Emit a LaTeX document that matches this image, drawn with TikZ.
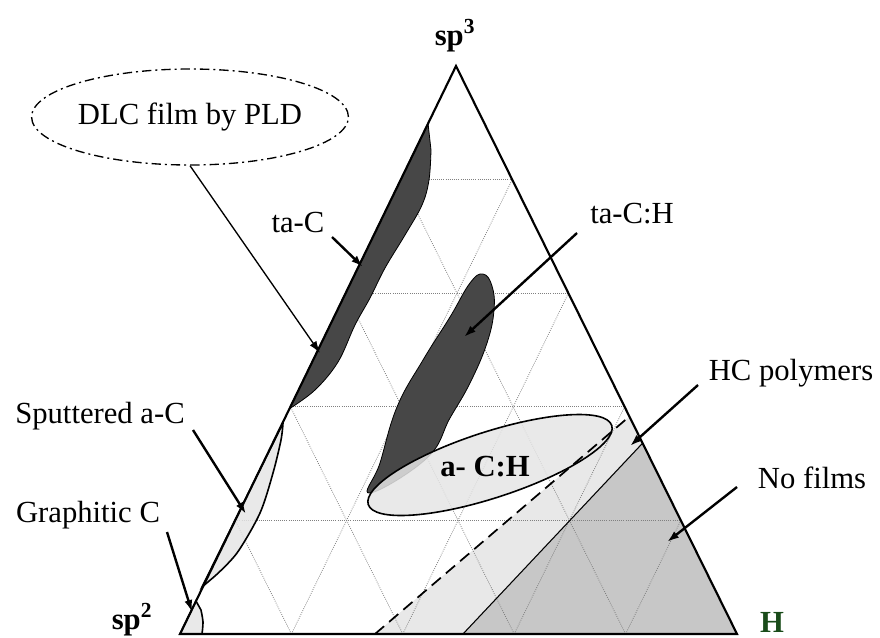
\documentclass[tikz,border=0pt]{standalone}
\usepackage{fontspec}
\setmainfont{Liberation Serif}
\usetikzlibrary{arrows.meta,calc,shapes.geometric}
\definecolor{hgreen}{RGB}{25,75,25}

\begin{document}
\begin{tikzpicture}[x=0.75pt, y=-0.75pt, >={Latex[length=9pt,width=6pt]},
    lbl/.style={font=\fontsize{23}{27}\selectfont, inner sep=0pt},
    corner/.style={font=\fontsize{23}{27}\selectfont\bfseries, inner sep=0pt},
    arr/.style={->, line width=1.8pt},
    gridline/.style={gray, densely dotted, line width=0.6pt},
    darkzone/.style={fill=black!72, draw=black, line width=0.6pt},
    lightzone/.style={fill=black!10, fill opacity=0.85, draw=black, line width=1.2pt}]
    \useasboundingbox (0,0) rectangle (880,637);

    % corners of the diagram
    \coordinate (A) at (180,634);
    \coordinate (B) at (737,634);
    \coordinate (C) at (456,66);

    % HC polymers and no films zones
    \fill[black!9] ($(A)!0.35!(B)$) -- ($(A)!0.508!(B)$) -- ($(B)!0.336!(C)$) -- ($(B)!0.383!(C)$) -- cycle;
    \fill[black!22] ($(A)!0.508!(B)$) -- (B) -- ($(B)!0.336!(C)$) -- cycle;

    % grid
    \foreach \k in {1,...,4} {
        \pgfmathsetmacro\fr{\k/5}
        \pgfmathsetmacro\gr{1-\k/5}
        \draw[gridline] ($(A)!\fr!(C)$) -- ($(B)!\fr!(C)$);
        \draw[gridline] ($(A)!\fr!(B)$) -- ($(B)!\gr!(C)$);
        \draw[gridline] ($(A)!\fr!(B)$) -- ($(A)!\fr!(C)$);
    }

    % ta-C and ta-C:H
    \draw[darkzone] (289,409) -- (428,123) -- plot[smooth, tension=0.6] coordinates {(431,150) (429,180) (422,205) (405,235) (385,268) (370,298) (355,325) (338,362) (315,390) (289,409)} -- cycle;
    \draw[darkzone] plot[smooth cycle, tension=0.7] coordinates {(483,274) (492,286) (494,310) (487,343) (470,383) (450,418) (427,458) (370,493) (380,463) (397,407) (423,360) (450,317) (470,283)};

    % a-C:H, sputtered and graphitic
    \draw[lightzone, rotate around={18:(490,465)}] (490,465) ellipse [x radius=128, y radius=33];
    \draw[lightzone] (283,423) -- (202,587) -- plot[smooth] coordinates {(215,576) (237,553) (260,513) (273,473) (281,440) (283,423)} -- cycle;
    \draw[lightzone] (180,634) -- (196,601) -- plot[smooth] coordinates {(201,610) (203,622) (202,634)} -- cycle;

    \draw[line width=1.3pt, dash pattern=on 9pt off 5pt] ($(A)!0.35!(B)$) -- ($(B)!0.383!(C)$);
    \draw[line width=0.8pt] ($(A)!0.508!(B)$) -- ($(B)!0.336!(C)$);

    \draw[line width=1.6pt] (A) -- (B) -- (C) -- cycle;

    % labels
    \node[corner] (sp3) at (455,36) {sp\textsuperscript{3}};
    \node[corner] (sp2) at (132,620) {sp\textsuperscript{2}};
    \node[corner, text=hgreen] (hcorner) at (772,622) {H};
    \node[corner] (ach) at (485,467) {a- C:H};
    \node[lbl] (tac) at (298,222) {ta-C};
    \node[lbl] (tach) at (632,214) {ta-C:H};
    \node[lbl] (hcp) at (791,373) {HC polymers};
    \node[lbl] (nofilm) at (812,478) {No films};
    \node[lbl] (sput) at (100,416) {Sputtered a-C};
    \node[lbl] (graph) at (88,515) {Graphitic C};
    \node[lbl, draw, ellipse, line width=1pt, dash pattern=on 7pt off 3pt on 1.5pt off 3pt,
        minimum width=235pt, minimum height=72pt] (dlc) at (190,117) {DLC film by PLD};

    % arrows
    \coordinate (dlcT) at (320,353);
    \coordinate (tacS) at (332,237);
    \coordinate (tacT) at (363,267);
    \coordinate (tachS) at (577,233);
    \coordinate (tachT) at (464,337);
    \coordinate (hcpS) at (698,385);
    \coordinate (hcpT) at (630,446);
    \coordinate (nofS) at (737,487);
    \coordinate (nofT) at (667,542);
    \coordinate (sputS) at (193,430);
    \coordinate (sputT) at (246,514);
    \coordinate (graphS) at (167,532);
    \coordinate (graphT) at (192,612);

    \draw[->, line width=1pt] (dlc.south) -- (dlcT);
    \draw[arr] (tacS) -- (tacT);
    \draw[arr] (tachS) -- (tachT);
    \draw[arr] (hcpS) -- (hcpT);
    \draw[arr] (nofS) -- (nofT);
    \draw[arr] (sputS) -- (sputT);
    \draw[arr] (graphS) -- (graphT);
\end{tikzpicture}
\end{document}
